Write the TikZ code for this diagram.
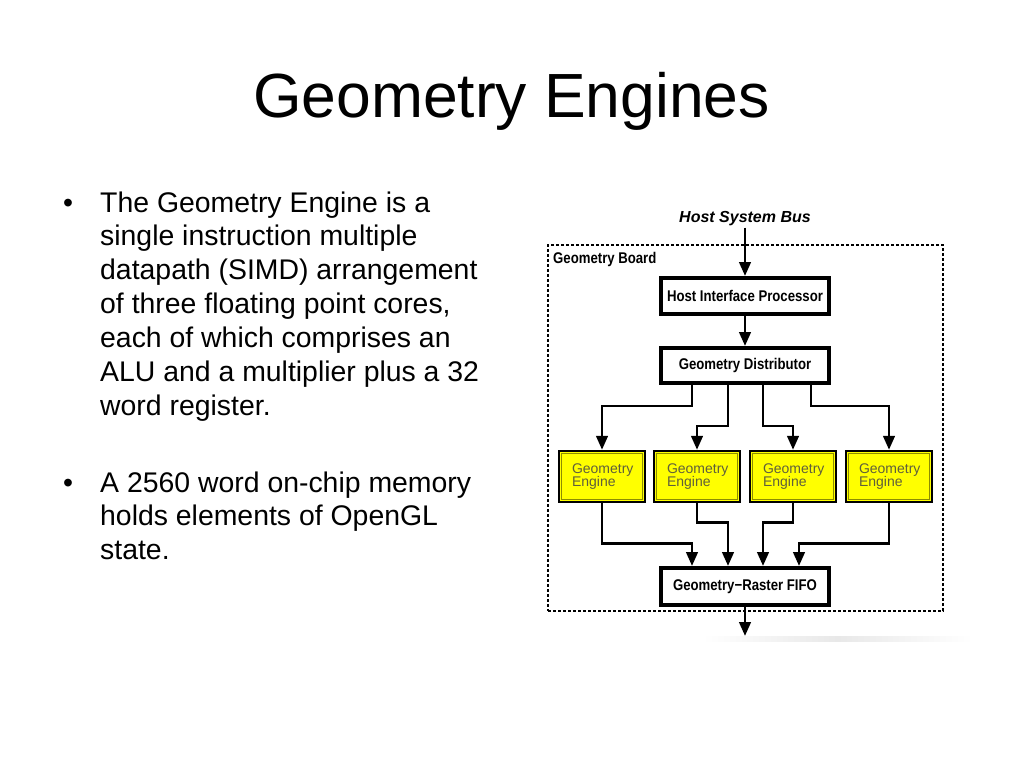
\documentclass[tikz,border=0pt]{standalone}
\usepackage{fontspec}
\setmainfont{Liberation Sans}
\newfontfamily\diagfont[FakeStretch=0.85]{Liberation Sans}
\usetikzlibrary{arrows.meta,calc}
\definecolor{engyellow}{RGB}{255,255,0}
\definecolor{engtext}{RGB}{95,95,60}
\definecolor{bevel}{RGB}{140,140,0}
\begin{document}
\begin{tikzpicture}[x=1pt,y=-1pt,
  bodytext/.style={font=\fontsize{28.4}{34}\selectfont, inner sep=0pt, anchor=base west},
  procbox/.style={draw, line width=4pt, fill=white, minimum width=168pt, minimum height=36pt, inner sep=0pt,
    font=\diagfont\bfseries\fontsize{15.5}{18}\selectfont},
  engbox/.style={draw, line width=2.4pt, fill=engyellow, minimum width=86pt, minimum height=51pt,
    inner xsep=13pt, inner ysep=0pt, text width=60pt, align=left, text=engtext,
    font=\fontsize{14}{13.5}\selectfont},
  boardbox/.style={draw, line width=2.4pt, dash pattern=on 3pt off 2pt, minimum width=395pt, minimum height=366pt, inner sep=0pt},
  conn/.style={line width=2.8pt},
  arr/.style={conn, -{Triangle[length=14pt,width=11.5pt]}}
]
\useasboundingbox (0,0) rectangle (1024,768);
\fill[white] (0,0) rectangle (1024,768);

% title
\node[font=\fontsize{62.4}{70}\selectfont, anchor=base, inner sep=0pt] (title) at (511.5,117) {Geometry Engines};

% bullets
\node[bodytext] (b1) at (63,212) {\textbullet};
\node[bodytext] (b2) at (63,492) {\textbullet};
\foreach \t [count=\i] in {The Geometry Engine is a, single instruction multiple, datapath (SIMD) arrangement,
  {of three floating point cores,}, each of which comprises an, ALU and a multiplier plus a 32, word register.}
  \node[bodytext] (p\i) at (100,{212+(\i-1)*33.9}) {\t};
\foreach \t [count=\i] in {A 2560 word on-chip memory, holds elements of OpenGL, state.}
  \node[bodytext] (q\i) at (100,{492+(\i-1)*33.9}) {\t};

% faint reflection streak
\shade[left color=white, right color=white, middle color=black!9] (703,636) rectangle (972,641);

% diagram
\node[boardbox] (board) at (745.5,428) {};
\node[anchor=base west, inner sep=0pt, font=\diagfont\bfseries\fontsize{15.5}{18}\selectfont] (boardlabel) at (553,263) {Geometry Board};
\node[anchor=base, inner sep=2pt, font=\bfseries\itshape\fontsize{16}{18}\selectfont] (bus) at (745,222) {Host System Bus};

\node[procbox] (hip) at (745,296) {Host Interface Processor};
\node[procbox, minimum height=35pt] (gd) at (745,365.5) {Geometry Distributor};
\node[procbox, minimum height=37pt] (fifo) at (745,586.5) {Geometry−Raster FIFO};

\node[engbox] (e1) at (602,476.5) {Geometry\\Engine};
\node[engbox] (e2) at (697,476.5) {Geometry\\Engine};
\node[engbox] (e3) at (793,476.5) {Geometry\\Engine};
\node[engbox] (e4) at (889,476.5) {Geometry\\Engine};
\foreach \n in {e1,e2,e3,e4}
  \draw[bevel, line width=0.9pt] ($(\n.north west)+(3.8,3.8)$) rectangle ($(\n.south east)+(-3.8,-3.8)$);

\coordinate (out) at (745,636);

% connectors
\draw[arr] (bus.south) -- (hip.north);
\draw[arr] (hip.south) -- (gd.north);
\draw[arr] ([xshift=-53]gd.south) -- ++(0,21) -| (e1.north);
\draw[arr] ([xshift=-17]gd.south) -- ++(0,41) -| (e2.north);
\draw[arr] ([xshift=18]gd.south) -- ++(0,41) -| (e3.north);
\draw[arr] ([xshift=66]gd.south) -- ++(0,21) -| (e4.north);
\draw[arr] (e1.south) -- ++(0,40) -| ([xshift=-53]fifo.north);
\draw[arr] (e2.south) -- ++(0,19) -| ([xshift=-17]fifo.north);
\draw[arr] (e3.south) -- ++(0,19) -| ([xshift=18]fifo.north);
\draw[arr] (e4.south) -- ++(0,40) -| ([xshift=54]fifo.north);
\draw[arr] (fifo.south) -- (out);
\end{tikzpicture}
\end{document}
